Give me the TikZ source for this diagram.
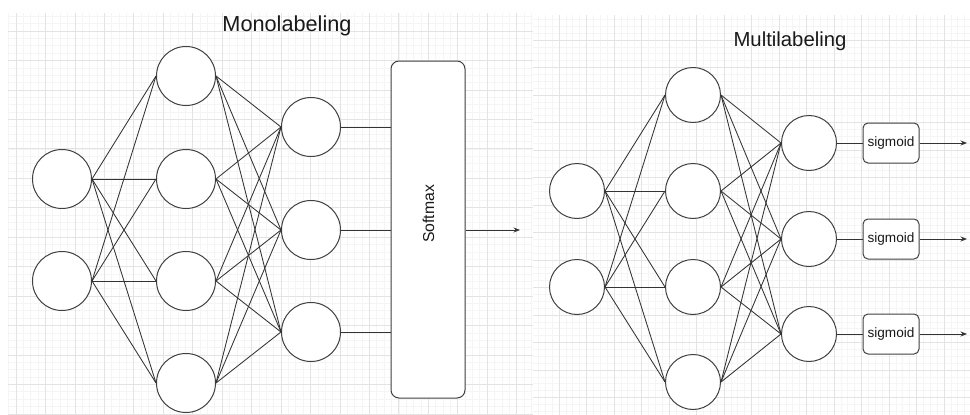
\documentclass[tikz,border=0pt]{standalone}
\usepackage{fontspec}
\setmainfont{Liberation Sans}
\usetikzlibrary{arrows.meta,calc}

\tikzset{
  neuronL/.style={circle, draw=black!75, line width=1pt, fill=white,
                  minimum size=59pt, inner sep=0pt},
  neuronR/.style={neuronL, minimum size=55pt},
  link/.style={draw=black!80, line width=0.85pt},
  outarrow/.style={link, -{Stealth[length=6.5pt,width=5pt]}},
  minorgrid/.style={draw=black!4, line width=0.7pt},
  majorgrid/.style={draw=black!11, line width=0.8pt},
  paneltitle/.style={anchor=base, text=black!90, inner sep=0pt},
  softbox/.style={draw=black!75, line width=1pt, fill=white, rounded corners=8pt,
                  minimum width=74pt, minimum height=337pt, inner sep=0pt},
  sigbox/.style={draw=black!75, line width=1pt, fill=white, rounded corners=5pt,
                 minimum width=56pt, minimum height=40pt, inner sep=0pt,
                 font=\fontsize{13.6}{16}\selectfont, text=black!90},
}

\begin{document}
\begin{tikzpicture}[x=1pt,y=-1pt]
\useasboundingbox (0,0) rectangle (970,415);
\fill[white] (0,0) rectangle (970,415);

% ---------- grid paper, left sheet ----------
\begin{scope}
  \clip (8,13) rectangle (533,415);
  \foreach \k in {-2,...,72} {
    \draw[minorgrid] ({16+7.3625*\k},13) -- ({16+7.3625*\k},415);
  }
  \foreach \k in {0,...,57} {
    \draw[minorgrid] (8,{1.6+7.3625*\k}) -- (533,{1.6+7.3625*\k});
  }
  \foreach \k in {0,...,18} {
    \draw[majorgrid] ({16+29.45*\k},13) -- ({16+29.45*\k},415);
  }
  \foreach \k in {0,...,14} {
    \draw[majorgrid] (8,{1.6+29.45*\k}) -- (533,{1.6+29.45*\k});
  }
\end{scope}

% ---------- grid paper, right sheet ----------
\begin{scope}
  \clip (533,15) rectangle (970,415);
  \foreach \k in {0,...,64} {
    \draw[minorgrid] ({531.5+6.875*\k},15) -- ({531.5+6.875*\k},415);
  }
  \foreach \k in {0,...,60} {
    \draw[minorgrid] (533,{12.5+6.875*\k}) -- (970,{12.5+6.875*\k});
  }
  \foreach \k in {0,...,16} {
    \draw[majorgrid] ({531.5+27.5*\k},15) -- ({531.5+27.5*\k},415);
  }
  \foreach \k in {0,...,15} {
    \draw[majorgrid] (533,{12.5+27.5*\k}) -- (970,{12.5+27.5*\k});
  }
\end{scope}

% ---------- titles ----------
\node[paneltitle, font=\fontsize{21.7}{26}\selectfont] (t1) at (287,31.7) {Monolabeling};
\node[paneltitle, font=\fontsize{20.3}{24}\selectfont] (t2) at (790,46) {Multilabeling};

% ---------- single-label network ----------
\node[neuronL] (li1) at (62,179) {};
\node[neuronL] (li2) at (62,281) {};
\node[neuronL] (lh1) at (186,76) {};
\node[neuronL] (lh2) at (186,179) {};
\node[neuronL] (lh3) at (186,281) {};
\node[neuronL] (lh4) at (186,383) {};
\node[neuronL] (lo1) at (311,127) {};
\node[neuronL] (lo2) at (311,230) {};
\node[neuronL] (lo3) at (311,332) {};
\node[softbox] (sm) at (428,229.5) {};
\node[rotate=90, anchor=base, inner sep=0pt, text=black!90,
      font=\fontsize{15.8}{19}\selectfont] (smtext) at (434,214) {Softmax};
\coordinate (smout) at (520,230);

\foreach \i in {1,2} \foreach \h in {1,...,4}
  \draw[link] (li\i.east) -- (lh\h.west);
\foreach \h in {1,...,4} \foreach \o in {1,2,3}
  \draw[link] (lh\h.east) -- (lo\o.west);
\foreach \o in {1,2,3}
  \draw[link] (lo\o.east) -- (lo\o.east -| sm.west);
\draw[outarrow] (sm.east |- smout) -- (smout);

% ---------- multi-label network ----------
\node[neuronR] (ri1) at (577,191) {};
\node[neuronR] (ri2) at (577,287) {};
\node[neuronR] (rh1) at (693,95) {};
\node[neuronR] (rh2) at (693,191) {};
\node[neuronR] (rh3) at (693,287) {};
\node[neuronR] (rh4) at (693,382) {};
\node[neuronR] (ro1) at (809,143) {};
\node[neuronR] (ro2) at (809,239) {};
\node[neuronR] (ro3) at (809,334) {};
\node[sigbox] (sg1) at (891,143) {sigmoid};
\node[sigbox] (sg2) at (891,239) {sigmoid};
\node[sigbox] (sg3) at (891,334) {sigmoid};
\coordinate (e1) at (967,143);
\coordinate (e2) at (967,239);
\coordinate (e3) at (967,334);

\foreach \i in {1,2} \foreach \h in {1,...,4}
  \draw[link] (ri\i.east) -- (rh\h.west);
\foreach \h in {1,...,4} \foreach \o in {1,2,3}
  \draw[link] (rh\h.east) -- (ro\o.west);
\foreach \o in {1,2,3} {
  \draw[link] (ro\o.east) -- (sg\o.west);
  \draw[outarrow] (sg\o.east) -- (e\o);
}
\end{tikzpicture}
\end{document}
